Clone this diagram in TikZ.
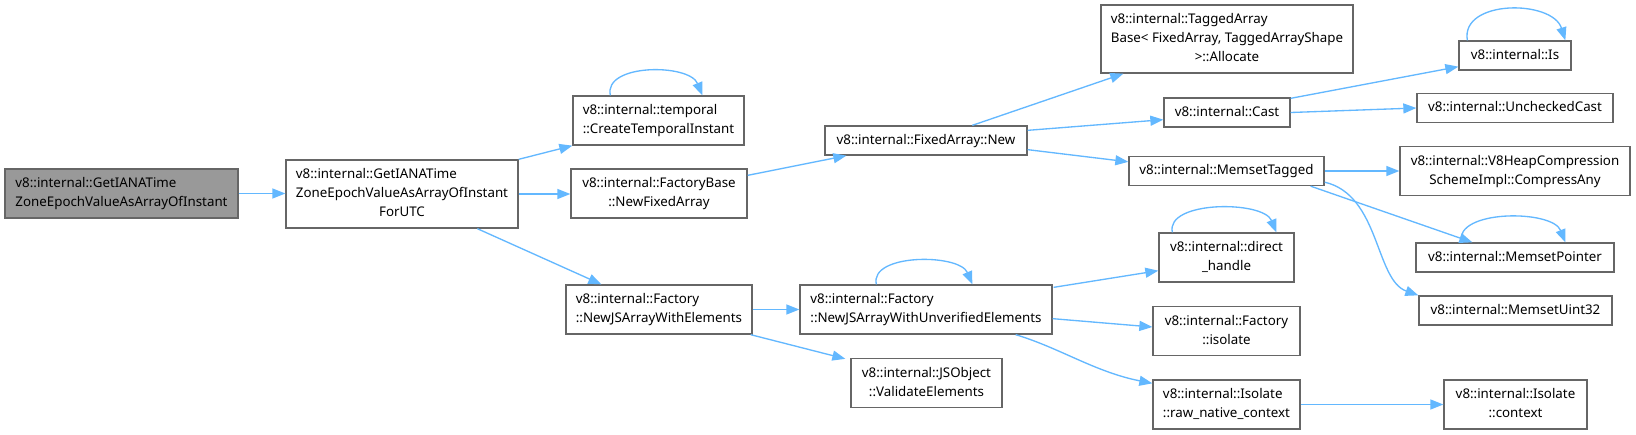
\documentclass[tikz,border=0pt]{standalone}
\usepackage{fontspec}
\setmainfont{Noto Sans}
\usetikzlibrary{arrows.meta,calc}
\definecolor{edgeblue}{HTML}{63B8FF}
\definecolor{boxgray}{HTML}{666666}
\definecolor{fillgray}{HTML}{999999}
\newcommand\lone[1]{\begin{tabular}{@{}c@{}}#1\end{tabular}}
\newcommand\ltwo[2]{\begin{tabular}{@{}l@{}}#1\\\multicolumn{1}{@{}c@{}}{#2}\end{tabular}}
\newcommand\lthree[3]{\begin{tabular}{@{}l@{}}#1\\#2\\\multicolumn{1}{@{}c@{}}{#3}\end{tabular}}
\begin{document}
\begin{tikzpicture}[x=1pt,y=-1pt,
  box/.style={draw=boxgray, line width=1.33pt, fill=white, inner sep=0pt,
    font=\fontsize{13.33pt}{19pt}\selectfont, text=black},
  one/.style={box, minimum height=29pt},
  two/.style={box, minimum height=49pt},
  three/.style={box, minimum height=68pt},
  conn/.style={draw=edgeblue, line width=1.33pt, -{Triangle[length=13pt,width=10pt]}}]
\useasboundingbox (0,0) rectangle (1636,434);
\fill[white] (0,0) rectangle (1636,434);

% nodes
\node[two, minimum width=233pt, fill=fillgray] (A) at (121.5,193.5) {\ltwo{v8::internal::GetIANATime}{ZoneEpochValueAsArrayOfInstant}};
\node[three, minimum width=232pt] (B) at (402,194) {\lthree{v8::internal::GetIANATime}{ZoneEpochValueAsArrayOfInstant}{ForUTC}};
\node[two, minimum width=171pt] (CTI) at (658.5,120.5) {\ltwo{v8::internal::temporal}{::CreateTemporalInstant}};
\node[two, minimum width=176pt] (NFA) at (659,193.5) {\ltwo{v8::internal::FactoryBase}{::NewFixedArray}};
\node[one, minimum width=202pt] (FAN) at (926,140.5) {\lone{v8::internal::FixedArray::New}};
\node[two, minimum width=186pt] (NJAWE) at (659,309.5) {\ltwo{v8::internal::Factory}{::NewJSArrayWithElements}};
\node[two, minimum width=252pt] (NJAWUE) at (926,309.5) {\ltwo{v8::internal::Factory}{::NewJSArrayWithUnverifiedElements}};
\node[two, minimum width=151pt] (VE) at (926.5,383) {\ltwo{v8::internal::JSObject}{::ValidateElements}};
\node[three, minimum width=252pt] (TAB) at (1227,39) {\lthree{v8::internal::TaggedArray}{Base< FixedArray, TaggedArrayShape}{>::Allocate}};
\node[one, minimum width=126pt] (Cast) at (1227,112.5) {\lone{v8::internal::Cast}};
\node[one, minimum width=195pt] (MT) at (1226.5,171) {\lone{v8::internal::MemsetTagged}};
\node[one, minimum width=112pt] (Is) at (1515,55.5) {\lone{v8::internal::Is}};
\node[one, minimum width=196pt] (UC) at (1515,108) {\lone{v8::internal::UncheckedCast}};
\node[two, minimum width=230pt] (V8H) at (1515,171) {\ltwo{v8::internal::V8HeapCompression}{SchemeImpl::CompressAny}};
\node[one, minimum width=198pt] (MP) at (1515,257.5) {\lone{v8::internal::MemsetPointer}};
\node[one, minimum width=193pt] (MU) at (1515.5,310.5) {\lone{v8::internal::MemsetUint32}};
\node[two, minimum width=135pt] (DH) at (1226.5,257.5) {\ltwo{v8::internal::direct}{\_handle}};
\node[two, minimum width=147pt] (FI) at (1226.5,331) {\ltwo{v8::internal::Factory}{::isolate}};
\node[two, minimum width=147pt] (RNC) at (1226.5,404.5) {\ltwo{v8::internal::Isolate}{::raw\_native\_context}};
\node[two, minimum width=143pt] (IC) at (1515.5,404.5) {\ltwo{v8::internal::Isolate}{::context}};

% edges
\draw[conn] (A.east) -- (A.east -| B.west);
\draw[conn] (B.north east) -- (CTI.south west);
\draw[conn] (B.east) -- (B.east -| NFA.west);
\draw[conn] ($(B.south west)+(192,0)$) -- ($(NJAWE.north west)+(36,0)$);
\draw[conn] ($(CTI.north west)+(38,0)$) .. controls +(-7,-32) and +(-13,-32) .. ($(CTI.north west)+(130,0)$);
\draw[conn] ($(NFA.north east)+(0,7)$) -- ($(FAN.south west)+(22,0)$);
\draw[conn] ($(FAN.north west)+(148,0)$) -- ($(TAB.south west)+(23,0)$);
\draw[conn] ($(FAN.north east)+(0,5)$) -- ($(Cast.south west)+(0,-8)$);
\draw[conn] ($(FAN.south east)+(0,-6)$) -- ($(MT.north west)+(0,6)$);
\draw[conn] ($(Cast.north east)+(0,1)$) -- ($(Is.south west)+(0,-4)$);
\draw[conn] (Cast.east) -- (UC.west);
\draw[conn] ($(Is.north west)+(9,0)$) .. controls +(-7,-41) and +(-13,-41) .. ($(Is.north west)+(107,0)$);
\draw[conn] (MT.east) -- (MT.east -| V8H.west);
\draw[conn] ($(MT.south east)+(-14,0)$) -- ($(MP.north west)+(57,0)$);
\draw[conn] ($(MT.south east)+(0,-4)$) .. controls (1380,195) and (1375,280) .. (MU.north west);
\draw[conn] ($(MP.north west)+(46,0)$) .. controls +(-7,-33) and +(-13,-33) .. ($(MP.north west)+(150,0)$);
\draw[conn] (NJAWE.east) -- (NJAWUE.west);
\draw[conn] ($(NJAWE.south east)+(-2,0)$) -- ($(VE.north west)+(-5,1)$);
\draw[conn] ($(NJAWUE.north west)+(77,0)$) .. controls +(-7,-31) and +(-13,-31) .. ($(NJAWUE.north west)+(173,0)$);
\draw[conn] ($(NJAWUE.north east)+(1,3)$) -- ($(DH.south west)+(0,-12)$);
\draw[conn] ($(NJAWUE.south east)+(0,-16)$) -- ($(FI.west)+(0,-4)$);
\draw[conn] ($(NJAWUE.south east)+(-37,0)$) .. controls (1060,348) and (1095,372) .. ($(RNC.north west)+(0,4)$);
\draw[conn] ($(DH.north west)+(14,0)$) .. controls +(-7,-32) and +(-13,-32) .. ($(DH.north west)+(118,0)$);
\draw[conn] (RNC.east) -- (IC.west);
\end{tikzpicture}
\end{document}
